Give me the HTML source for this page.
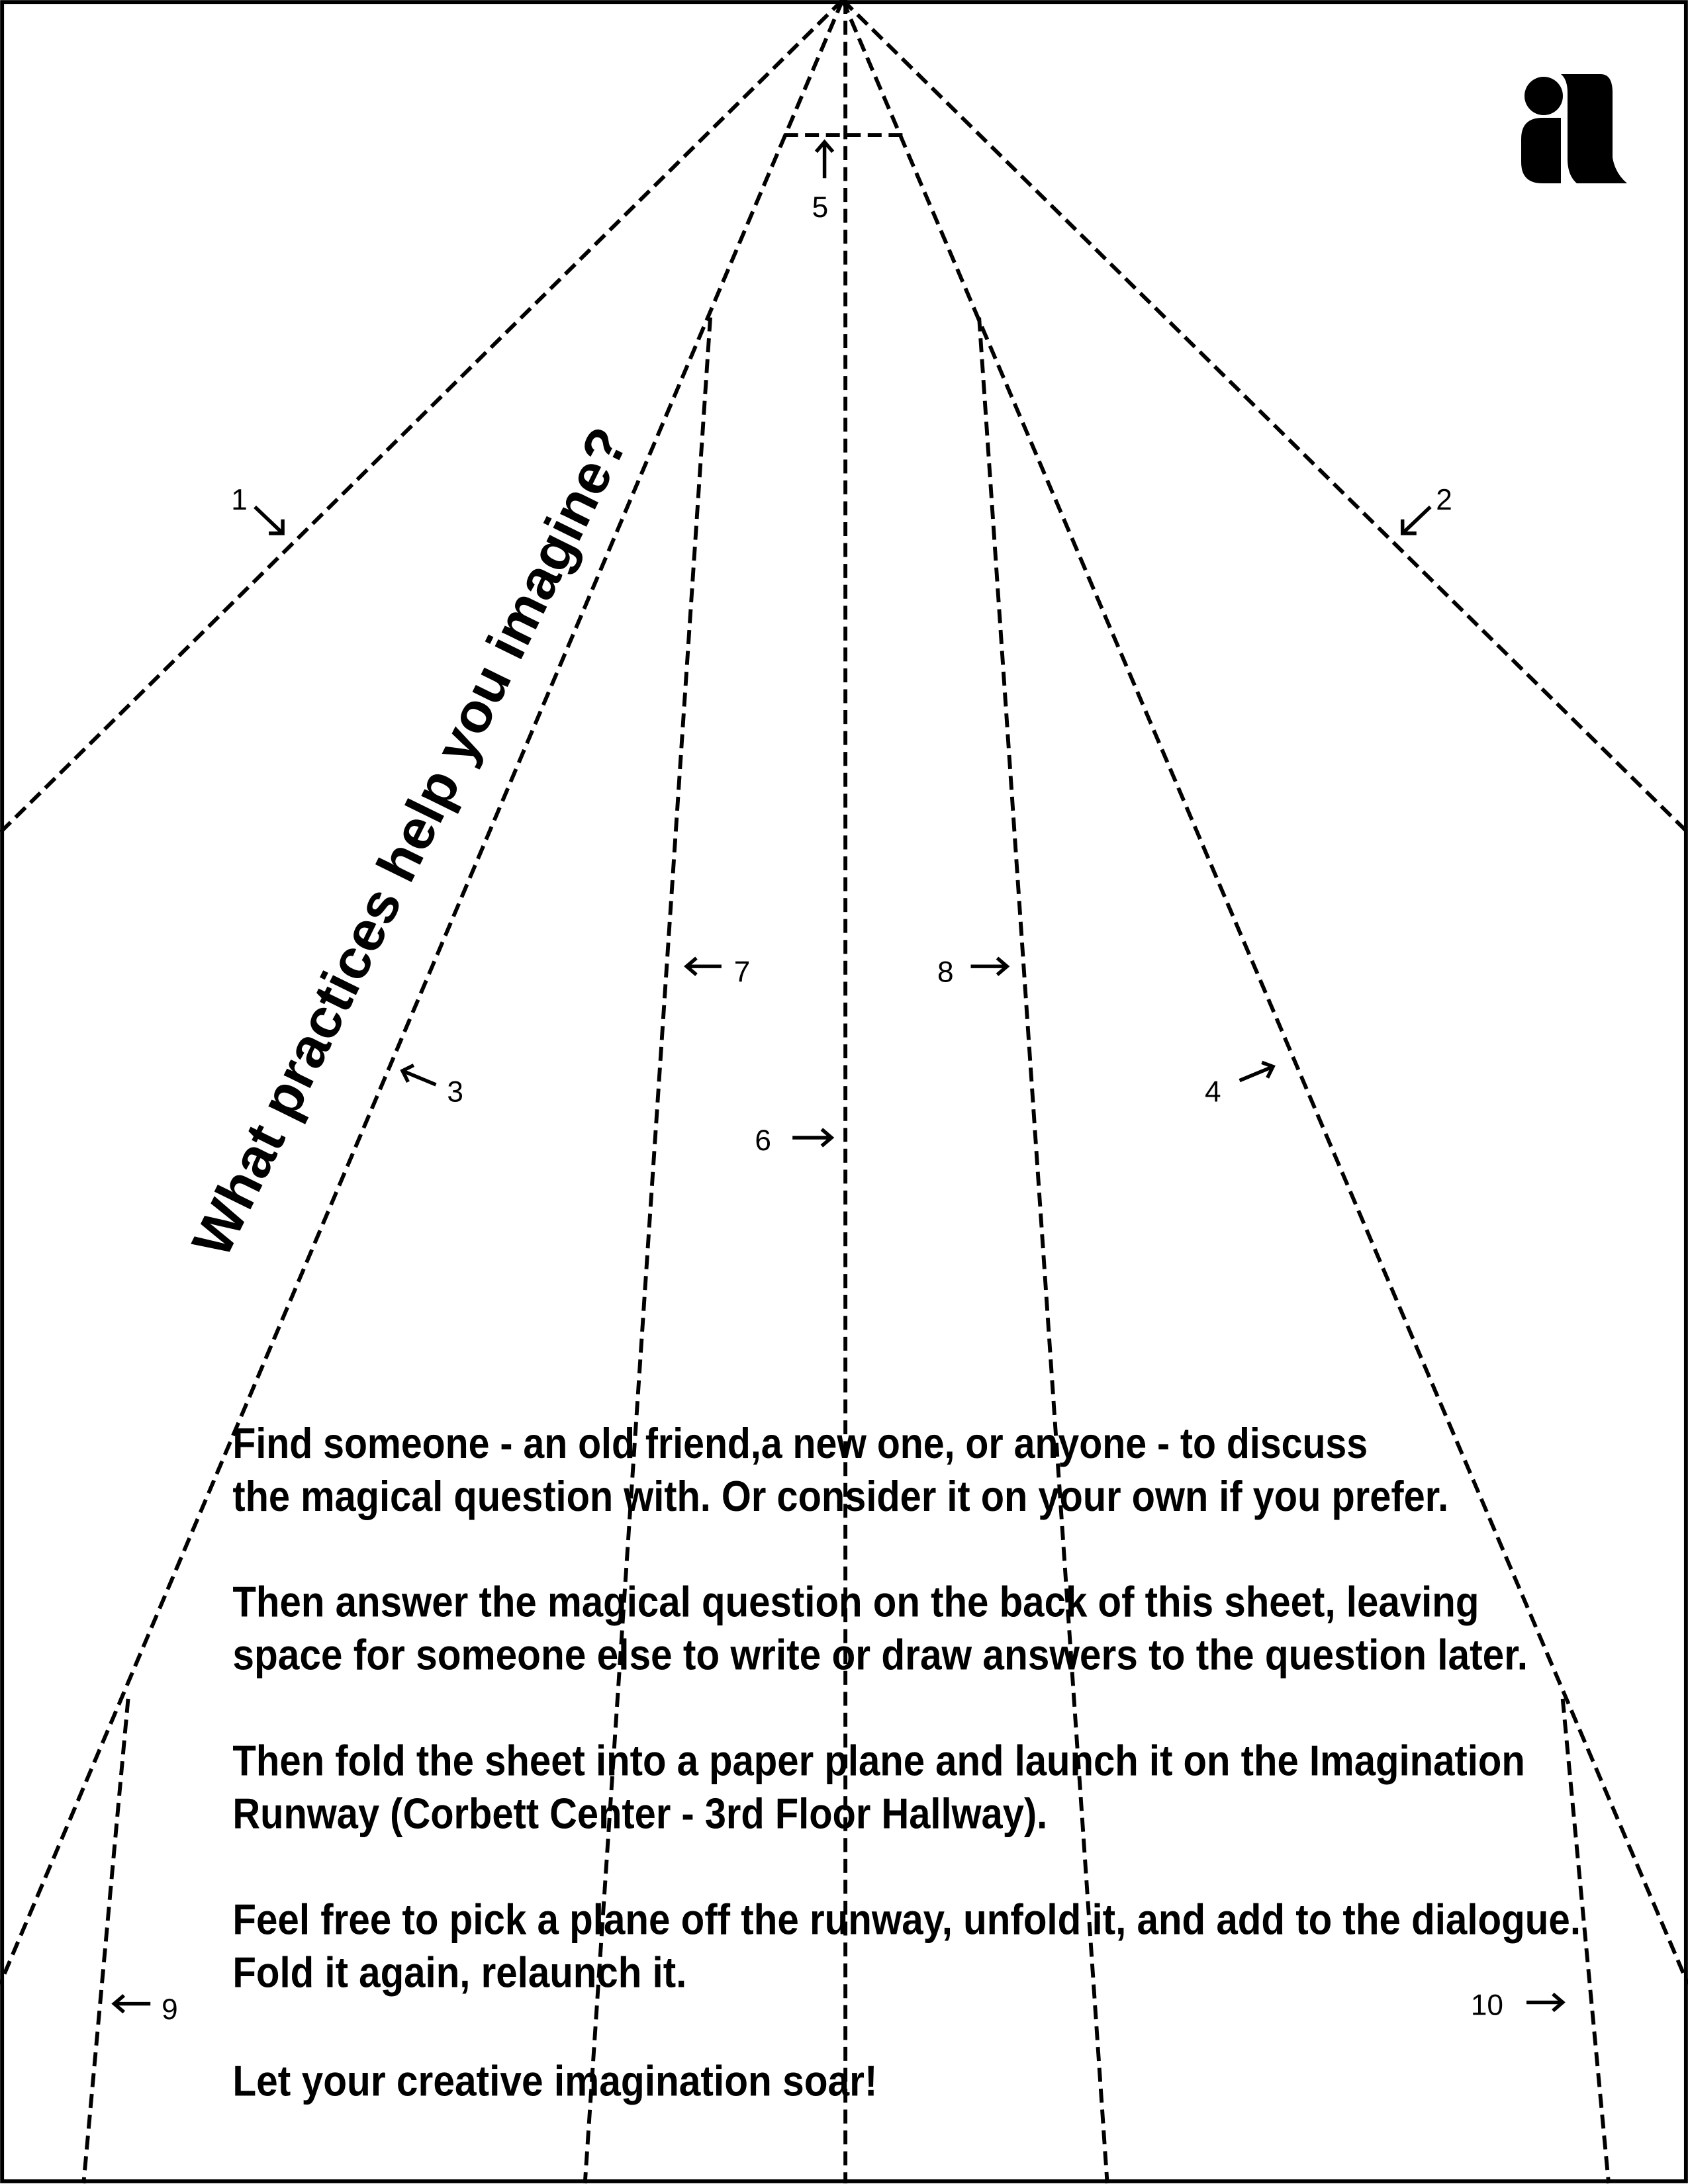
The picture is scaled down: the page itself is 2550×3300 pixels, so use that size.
<!DOCTYPE html>
<html><head><meta charset="utf-8"><style>
html,body{margin:0;padding:0;background:#fff;}
svg{display:block;}
</style></head><body>
<svg width="2550" height="3300" viewBox="0 0 2550 3300" xmlns="http://www.w3.org/2000/svg">
<rect x="0" y="0" width="2550" height="3300" fill="#fff"/>
<g transform="scale(2.104)">
<rect x="1.5" y="1.5" width="1209" height="1565" fill="none" stroke="#000" stroke-width="2.8"/>
<g stroke="#000" stroke-width="2.8" fill="none" stroke-dasharray="10 5">
<line x1="605" y1="0" x2="0" y2="598"/>
<line x1="605" y1="0" x2="1212" y2="598"/>
<line x1="605" y1="0" x2="0" y2="1425"/>
<line x1="605" y1="0" x2="1212" y2="1425"/>
<line x1="510" y1="228" x2="420" y2="1568"/>
<line x1="703" y1="228" x2="795" y2="1568"/>
<line x1="607" y1="0" x2="607" y2="1568"/>
<line x1="563" y1="97" x2="648" y2="97"/>
<line x1="92" y1="1220" x2="60" y2="1568"/>
<line x1="1122" y1="1220" x2="1155" y2="1568"/>
</g>
<g stroke="#000" stroke-width="2.6" fill="none">
<path d="M183 364 L203 383 M203 373 L203 383 L193 383"/>
<path d="M1027 364 L1007 383 M1007 373 L1007 383 L1017 383"/>
<path d="M592 128 L592 102 M586 109 L592 102 L598 109"/>
<path d="M518 694 L493 694 M500 688 L493 694 L500 700"/>
<path d="M697 694 L723 694 M716 688 L723 694 L716 700"/>
<path d="M313 779 L289 769 M293 777 L289 769 L297 765"/>
<path d="M890 776 L914 766 M906 763 L914 766 L910 774"/>
<path d="M569 817 L597 817 M590 811 L597 817 L590 823"/>
<path d="M108 1439 L82 1439 M89 1433 L82 1439 L89 1445"/>
<path d="M1096 1438 L1122 1438 M1115 1432 L1122 1438 L1115 1444"/>
</g>
<g font-family="Liberation Sans, sans-serif" font-size="21" fill="#000">
<text x="166" y="366">1</text>
<text x="1031" y="366">2</text>
<text x="583" y="156">5</text>
<text x="527" y="705">7</text>
<text x="673" y="705">8</text>
<text x="321" y="791">3</text>
<text x="865" y="791">4</text>
<text x="542" y="826">6</text>
<text x="116" y="1450">9</text>
<text x="1056" y="1447">10</text>
</g>
<g font-family="Liberation Sans, sans-serif" font-weight="bold" font-size="31" fill="#000">
<text x="167" y="1047" textLength="815" lengthAdjust="spacingAndGlyphs">Find someone - an old friend,a new one, or anyone - to discuss</text>
<text x="167" y="1085" textLength="873" lengthAdjust="spacingAndGlyphs">the magical question with. Or consider it on your own if you prefer.</text>
<text x="167" y="1161" textLength="895" lengthAdjust="spacingAndGlyphs">Then answer the magical question on the back of this sheet, leaving</text>
<text x="167" y="1199" textLength="930" lengthAdjust="spacingAndGlyphs">space for someone else to write or draw answers to the question later.</text>
<text x="167" y="1275" textLength="928" lengthAdjust="spacingAndGlyphs">Then fold the sheet into a paper plane and launch it on the Imagination</text>
<text x="167" y="1313" textLength="585" lengthAdjust="spacingAndGlyphs">Runway (Corbett Center - 3rd Floor Hallway).</text>
<text x="167" y="1389" textLength="968" lengthAdjust="spacingAndGlyphs">Feel free to pick a plane off the runway, unfold it, and add to the dialogue.</text>
<text x="167" y="1427" textLength="326" lengthAdjust="spacingAndGlyphs">Fold it again, relaunch it.</text>
<text x="167" y="1505" textLength="463" lengthAdjust="spacingAndGlyphs">Let your creative imagination soar!</text>
<text transform="translate(295,605) rotate(-63.8)" x="0" y="13" text-anchor="middle" font-size="40" textLength="657" lengthAdjust="spacingAndGlyphs">What practices help you imagine?</text>
</g>
</g>
<g fill="#000">
<circle cx="2332" cy="145" r="29"/>
<path d="M2358 178 L2358 277 L2330 277 Q2298 277 2298 245 L2298 210 Q2298 178 2330 178 Z"/>
<path d="M2358 112 L2418 112 Q2436 112 2436 140 L2436 238 Q2440 262 2458 277 L2382 277 Q2368 265 2368 240 L2368 140 Q2368 120 2358 112 Z"/>
</g>
</svg>
</body></html>
